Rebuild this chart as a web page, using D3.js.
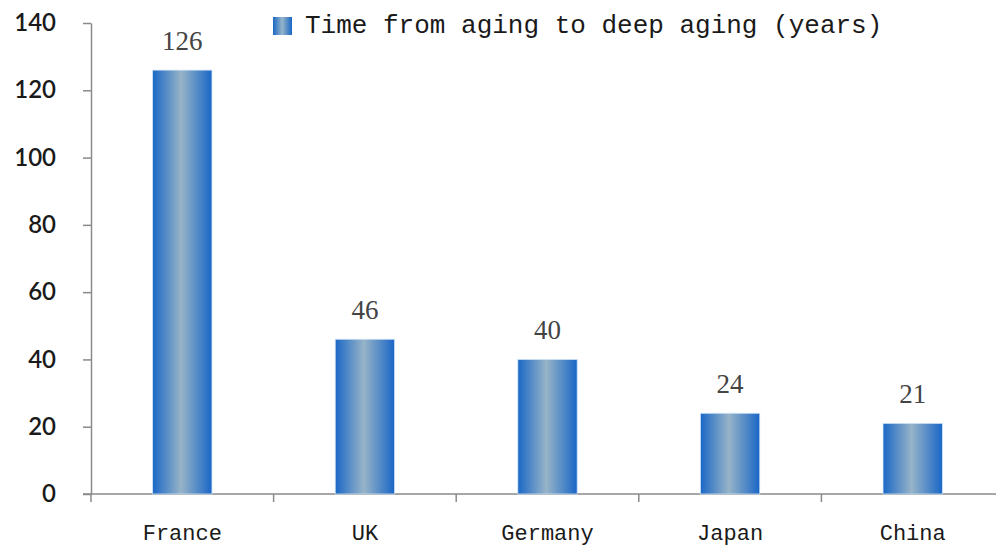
<!DOCTYPE html>
<html>
<head>
<meta charset="utf-8">
<script src="https://cdn.jsdelivr.net/npm/d3@7"></script>
<style>
  body { margin: 0; background: #fff; }
</style>
</head>
<body>
<div id="chart"></div>
<script>
const countries = ["France", "UK", "Germany", "Japan", "China"];
const years = [126, 46, 40, 24, 21];
const yTicks = [0, 20, 40, 60, 80, 100, 120, 140];
const seriesName = "Time from aging to deep aging (years)";

const width = 996, height = 548;
const margin = { top: 23, right: -8, bottom: 54, left: 91 };

const svg = d3.select("#chart")
	.append("svg")
	.attr("width", width)
	.attr("height", height);

// bar gradient: dark blue edges, pale grey-blue middle
const defs = svg.append("defs");
const grad = defs.append("linearGradient")
	.attr("id", "barFill")
	.attr("x1", "0%").attr("x2", "100%")
	.attr("y1", "0%").attr("y2", "0%");
grad.append("stop").attr("offset", "0%").attr("stop-color", "#1a68c6");
grad.append("stop").attr("offset", "48%").attr("stop-color", "#97b4c8");
grad.append("stop").attr("offset", "100%").attr("stop-color", "#1966c6");

const x = d3.scaleBand()
	.domain(countries)
	.range([margin.left, width - margin.right])
	.paddingInner(0.675)
	.paddingOuter(0.3375);

const y = d3.scaleLinear()
	.domain([0, 140])
	.range([height - margin.bottom, margin.top]);

// y axis
const yAxis = svg.append("g")
	.attr("transform", `translate(${margin.left},0)`)
	.call(d3.axisLeft(y).tickValues(yTicks).tickSize(8).tickPadding(27).tickSizeOuter(0));
yAxis.select(".domain").attr("stroke", "#8a8a8a").attr("stroke-width", 1.5);
yAxis.selectAll(".tick line").attr("stroke", "#8a8a8a").attr("stroke-width", 1.5);
yAxis.selectAll(".tick text")
	.attr("fill", "#1a1a1a")
	.style("font-family", "Lato, 'Open Sans', sans-serif")
	.style("font-weight", "600")
	.style("font-size", "24px");

// x axis with ticks at category boundaries
const step = x.step();
const bounds = d3.range(countries.length + 1).map(i => margin.left + i * step);
const xAxisG = svg.append("g");
xAxisG.append("line")
	.attr("x1", margin.left - 8).attr("x2", width)
	.attr("y1", y(0)).attr("y2", y(0))
	.attr("stroke", "#8a8a8a").attr("stroke-width", 1.5);
xAxisG.selectAll("line.tk")
	.data(bounds)
	.enter()
	.append("line")
	.attr("class", "tk")
	.attr("x1", d => d).attr("x2", d => d)
	.attr("y1", y(0)).attr("y2", y(0) + 8)
	.attr("stroke", "#8a8a8a").attr("stroke-width", 1.5);
xAxisG.selectAll("text")
	.data(countries)
	.enter()
	.append("text")
	.text(d => d)
	.attr("x", d => x(d) + x.bandwidth() / 2)
	.attr("y", 540)
	.attr("text-anchor", "middle")
	.attr("fill", "#1a1a1a")
	.style("font-family", "'Liberation Mono', monospace")
	.style("font-size", "22px");

// bars
svg.append("g")
	.selectAll("rect")
	.data(years)
	.enter()
	.append("rect")
	.attr("x", (d, i) => x(countries[i]))
	.attr("y", d => y(d))
	.attr("width", x.bandwidth())
	.attr("height", d => y(0) - y(d))
	.attr("fill", "url(#barFill)")
	.attr("stroke", "#cfe3f7")
	.attr("stroke-width", 0.8);

// value labels
svg.append("g")
	.selectAll("text")
	.data(years)
	.enter()
	.append("text")
	.text(d => d)
	.attr("x", (d, i) => x(countries[i]) + x.bandwidth() / 2)
	.attr("y", d => y(d) - 20)
	.attr("text-anchor", "middle")
	.attr("fill", "#444")
	.style("font-family", "'Liberation Serif', serif")
	.style("font-size", "27px");

// legend
const legend = svg.append("g").attr("transform", "translate(273,17)");
legend.append("rect")
	.attr("width", 19).attr("height", 18)
	.attr("fill", "url(#barFill)");
legend.append("text")
	.text(seriesName)
	.attr("x", 32)
	.attr("y", 16)
	.attr("fill", "#1a1a1a")
	.style("font-family", "'Liberation Mono', monospace")
	.style("font-size", "26px");
</script>
</body>
</html>
